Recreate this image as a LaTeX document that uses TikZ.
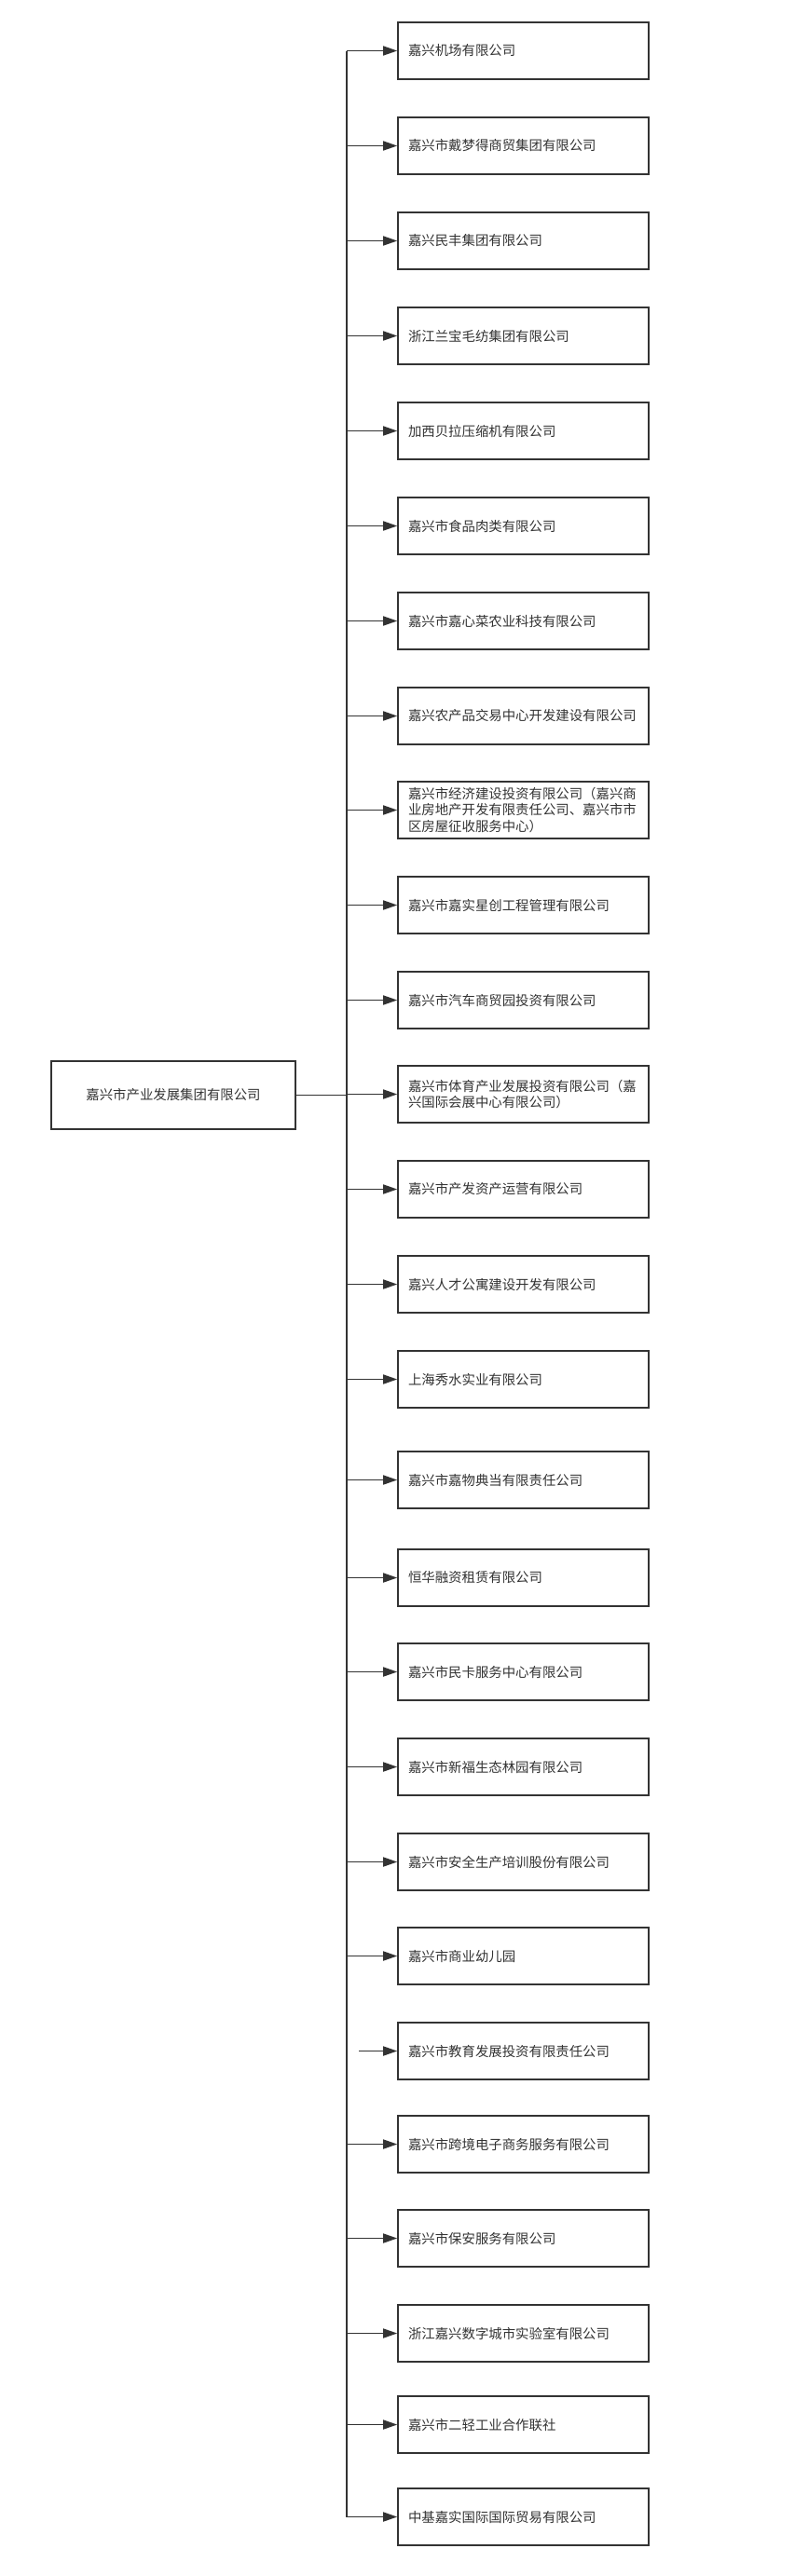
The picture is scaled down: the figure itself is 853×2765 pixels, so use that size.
\documentclass[tikz,border=0pt]{standalone}
\usepackage{fontspec}
\setmainfont{Noto Sans CJK SC}
\usetikzlibrary{arrows.meta}
\definecolor{ink}{HTML}{333333}
\begin{document}
\begin{tikzpicture}[x=1pt,y=-1pt,
  box/.style={draw=ink,line width=1.6pt,minimum width=269pt,minimum height=61pt,inner xsep=11pt,inner ysep=0pt,
    text width=247pt,align=left,font=\fontsize{14.4pt}{17.5pt}\selectfont,text=ink},
  rootbox/.style={draw=ink,line width=1.6pt,minimum width=262pt,minimum height=73pt,inner sep=0pt,
    align=center,font=\fontsize{14.4pt}{17.5pt}\selectfont,text=ink},
  link/.style={draw=ink,line width=1.6pt},
  arr/.style={link,-{Triangle[length=15pt,width=10pt]}}]
\fill[white] (0,0) rectangle (853,2765);
\node[rootbox] (root) at (186,1175.5) {嘉兴市产业发展集团有限公司};
\node[box] (b1) at (561.5,54.5) {嘉兴机场有限公司};
\node[box] (b2) at (561.5,156.5) {嘉兴市戴梦得商贸集团有限公司};
\node[box] (b3) at (561.5,258.5) {嘉兴民丰集团有限公司};
\node[box] (b4) at (561.5,360.5) {浙江兰宝毛纺集团有限公司};
\node[box] (b5) at (561.5,462.5) {加西贝拉压缩机有限公司};
\node[box] (b6) at (561.5,564.5) {嘉兴市食品肉类有限公司};
\node[box] (b7) at (561.5,666.5) {嘉兴市嘉心菜农业科技有限公司};
\node[box] (b8) at (561.5,768.5) {嘉兴农产品交易中心开发建设有限公司};
\node[box] (b9) at (561.5,869.5) {嘉兴市经济建设投资有限公司（嘉兴商\\业房地产开发有限责任公司、嘉兴市市\\区房屋征收服务中心）};
\node[box] (b10) at (561.5,971.5) {嘉兴市嘉实星创工程管理有限公司};
\node[box] (b11) at (561.5,1073.5) {嘉兴市汽车商贸园投资有限公司};
\node[box] (b12) at (561.5,1174.5) {嘉兴市体育产业发展投资有限公司（嘉\\兴国际会展中心有限公司）};
\node[box] (b13) at (561.5,1276.5) {嘉兴市产发资产运营有限公司};
\node[box] (b14) at (561.5,1378.5) {嘉兴人才公寓建设开发有限公司};
\node[box] (b15) at (561.5,1480.5) {上海秀水实业有限公司};
\node[box] (b16) at (561.5,1588.5) {嘉兴市嘉物典当有限责任公司};
\node[box] (b17) at (561.5,1693.5) {恒华融资租赁有限公司};
\node[box] (b18) at (561.5,1794.5) {嘉兴市民卡服务中心有限公司};
\node[box] (b19) at (561.5,1896.5) {嘉兴市新福生态林园有限公司};
\node[box] (b20) at (561.5,1998.5) {嘉兴市安全生产培训股份有限公司};
\node[box] (b21) at (561.5,2099.5) {嘉兴市商业幼儿园};
\node[box] (b22) at (561.5,2201.5) {嘉兴市教育发展投资有限责任公司};
\node[box] (b23) at (561.5,2301.5) {嘉兴市跨境电子商务服务有限公司};
\node[box] (b24) at (561.5,2402.5) {嘉兴市保安服务有限公司};
\node[box] (b25) at (561.5,2504.5) {浙江嘉兴数字城市实验室有限公司};
\node[box] (b26) at (561.5,2602.5) {嘉兴市二轻工业合作联社};
\node[box] (b27) at (561.5,2701.5) {中基嘉实国际国际贸易有限公司};
% trunk coordinates
\foreach \i in {1,...,27} {\coordinate (t\i) at (372,0 |- b\i.west);}
\coordinate (t22) at (385,0 |- b22.west);
\coordinate (rj) at (372,0 |- root.east);
\draw[link] (t1) -- (t27);
\draw[link] (root.east) -- (rj);
\foreach \i in {1,...,27} {\draw[arr] (t\i) -- (b\i.west);}
\end{tikzpicture}
\end{document}
